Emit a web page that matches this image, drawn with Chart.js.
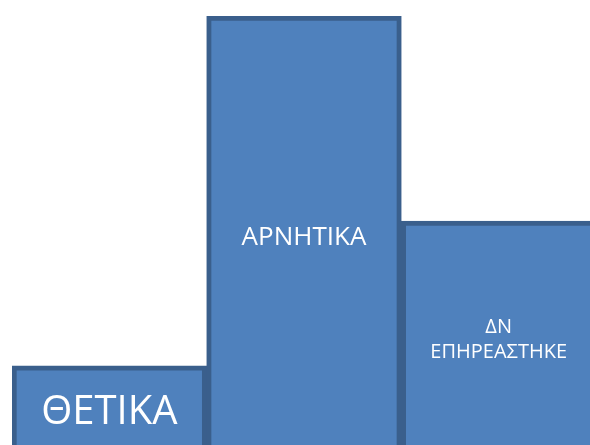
<!DOCTYPE html>
<html>
<head>
<meta charset="utf-8">
<script src="https://cdn.jsdelivr.net/npm/chart.js@4/dist/chart.umd.min.js"></script>
<style>
  html, body { margin: 0; padding: 0; overflow: hidden; background: #ffffff; }
  #wrap { position: absolute; left: 0; top: 0; }
</style>
</head>
<body>
<div id="wrap"><canvas id="chart" width="596" height="459"></canvas></div>
<script>
// categories (shown as labels inside the bars)
const categories = ["ΘΕΤΙΚΑ", "ΑΡΝΗΤΙΚΑ", ["ΔΝ", "ΕΠΗΡΕΑΣΤΗΚΕ"]];
// series values
const values = [12, 57, 30.6];

// label font size per bar (style)
const labelFontSizes = [40, 26, 20];

// draws each category name centred inside its own bar
const barLabels = {
  id: "barLabels",
  afterDatasetsDraw(chart) {
    const ctx = chart.ctx;
    const meta = chart.getDatasetMeta(0);
    meta.data.forEach((bar, i) => {
      const lines = [].concat(chart.data.labels[i]);
      const size = labelFontSizes[i];
      const lineH = size * 1.25;
      const cy = (bar.y + bar.base) / 2;
      ctx.save();
      ctx.fillStyle = "#ffffff";
      ctx.font = size + "px 'Open Sans', 'Noto Sans', sans-serif";
      ctx.textAlign = "center";
      ctx.textBaseline = "middle";
      lines.forEach((line, j) => {
        const y = cy + (j - (lines.length - 1) / 2) * lineH;
        ctx.fillText(line, bar.x, y);
      });
      ctx.restore();
    });
  },
};

new Chart(document.getElementById("chart"), {
  type: "bar",
  data: {
    labels: categories,
    datasets: [
      {
        data: values,
        backgroundColor: "#4f81bd",
        borderColor: "#3a5f8c",
        borderWidth: 5,
        borderSkipped: "start",
        barPercentage: 1,
        categoryPercentage: 1,
      },
    ],
  },
  options: {
    responsive: false,
    animation: false,
    layout: { padding: { left: 12, top: 16, right: 0, bottom: 0 } },
    plugins: {
      legend: { display: false },
      tooltip: { enabled: false },
    },
    scales: {
      x: { display: false },
      y: { display: false, min: 0, max: 57 },
    },
  },
  plugins: [barLabels],
});
</script>
</body>
</html>
